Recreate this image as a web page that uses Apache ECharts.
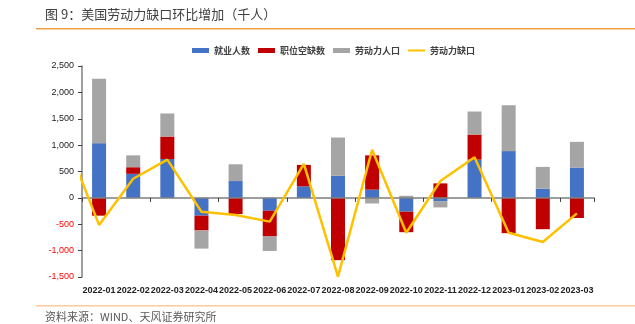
<!DOCTYPE html>
<html>
<head>
<meta charset="utf-8">
<script src="https://cdn.jsdelivr.net/npm/echarts@6/dist/echarts.min.js"></script>
<style>
  html, body { margin: 0; padding: 0; background: #fff; }
  #chart { width: 635px; height: 324px; }
</style>
</head>
<body>
<div id="chart"></div>
<script>
// Monthly changes, thousands of people
const months = ['2022-01','2022-02','2022-03','2022-04','2022-05','2022-06','2022-07','2022-08',
                '2022-09','2022-10','2022-11','2022-12','2023-01','2023-02','2023-03'];
const employment = [1037, 456, 737, -337, 319, -244, 219, 419, 156, -262, -62, 725, 887, 175, 575];
const openings   = [-337, 125, 425, -281, -306, -487, 406, -1181, 650, -388, 275, 475, -669, -594, -381];
const laborForce = [1219, 225, 438, -344, 318, -275, 0, 725, -106, 40, -119, 437, 869, 412, 487];
// Labor shortage change; the series begins with the prior month (2021-12)
const gapPrev = 1136;
const gap = [-512, 362, 725, -262, -325, -450, 644, -1494, 912, -662, 319, 769, -662, -837, -294];
const yTicks = { min: -1500, max: 2500, step: 500 };

const names = ['就业人数', '职位空缺数', '劳动力人口', '劳动力缺口'];
const colors = ['#4472C4', '#C00000', '#A5A5A5', '#FFC000'];

const gapPoints = [[-0.5, gapPrev]].concat(gap.map((v, i) => [i + 0.5, v]));

const chart = echarts.init(document.getElementById('chart'), null, { renderer: 'canvas' });
const fontCJK = '"Noto Sans CJK SC", "Microsoft YaHei", sans-serif';

chart.setOption({
  animation: false,
  textStyle: { fontFamily: fontCJK },
  graphic: [
    { type: 'text', left: 45, top: 8,
      style: { text: '图 9：美国劳动力缺口环比增加（千人）', font: '13px ' + fontCJK, fill: '#404040' } },
    { type: 'rect', shape: { x: 36, y: 28, width: 599, height: 1.5 }, style: { fill: '#F0A04B' } },
    { type: 'rect', shape: { x: 36, y: 305, width: 599, height: 1.5 }, style: { fill: '#F8CBA0' } },
    { type: 'text', left: 45, top: 311,
      style: { text: '资料来源：WIND、天风证券研究所', font: '11px ' + fontCJK, fill: '#595959' } }
  ],
  legend: {
    left: 187, top: 41,
    itemWidth: 17, itemHeight: 5, itemGap: 8,
    textStyle: { fontSize: 9, color: '#404040', fontWeight: 'bold' },
    data: [
      { name: names[0], icon: 'rect' },
      { name: names[1], icon: 'rect' },
      { name: names[2], icon: 'rect' },
      { name: names[3], icon: 'path://M0,0H17V2H0Z' }
    ]
  },
  grid: { left: 82, right: 41, top: 66, bottom: 47 },
  xAxis: [
    {
      // month labels along the bottom edge
      type: 'category', data: months, position: 'bottom',
      axisLine: { show: false, onZero: false }, axisTick: { show: false },
      axisLabel: { fontSize: 9, color: '#222', fontWeight: 'bold', margin: 9, interval: 0,
                   fontFamily: '"Liberation Sans", Arial, sans-serif' }
    },
    {
      // baseline with ticks, drawn at zero over the bars
      type: 'category', data: months, position: 'bottom', z: 4,
      axisLine: { show: true, onZero: true, lineStyle: { color: '#7F7F7F', width: 1.5 } },
      axisTick: { show: true, length: 4, lineStyle: { color: '#404040' } },
      axisLabel: { show: false }
    },
    { type: 'value', min: 0, max: months.length, show: false, axisLine: { onZero: false } }
  ],
  yAxis: {
    type: 'value', min: yTicks.min, max: yTicks.max, interval: yTicks.step,
    axisLine: { show: true, onZero: false, lineStyle: { color: '#7F7F7F', width: 1.5 } },
    axisTick: { show: true, length: 4, lineStyle: { color: '#404040' } },
    splitLine: { show: false },
    axisLabel: {
      fontSize: 9, margin: 8, fontFamily: '"Liberation Sans", Arial, sans-serif',
      formatter: v => v.toLocaleString('en-US'),
      color: v => (Number(v) < 0 ? '#FF0000' : '#222')
    }
  },
  series: [
    { name: names[0], type: 'bar', stack: 'total', xAxisIndex: 0, data: employment,
      barWidth: 14, itemStyle: { color: colors[0] } },
    { name: names[1], type: 'bar', stack: 'total', xAxisIndex: 0, data: openings,
      barWidth: 14, itemStyle: { color: colors[1] } },
    { name: names[2], type: 'bar', stack: 'total', xAxisIndex: 0, data: laborForce,
      barWidth: 14, itemStyle: { color: colors[2] } },
    { name: names[3], type: 'line', xAxisIndex: 2, data: gapPoints, clip: true,
      symbol: 'none', z: 5,
      lineStyle: { color: colors[3], width: 2.5 }, itemStyle: { color: colors[3] } }
  ]
});
</script>
</body>
</html>
